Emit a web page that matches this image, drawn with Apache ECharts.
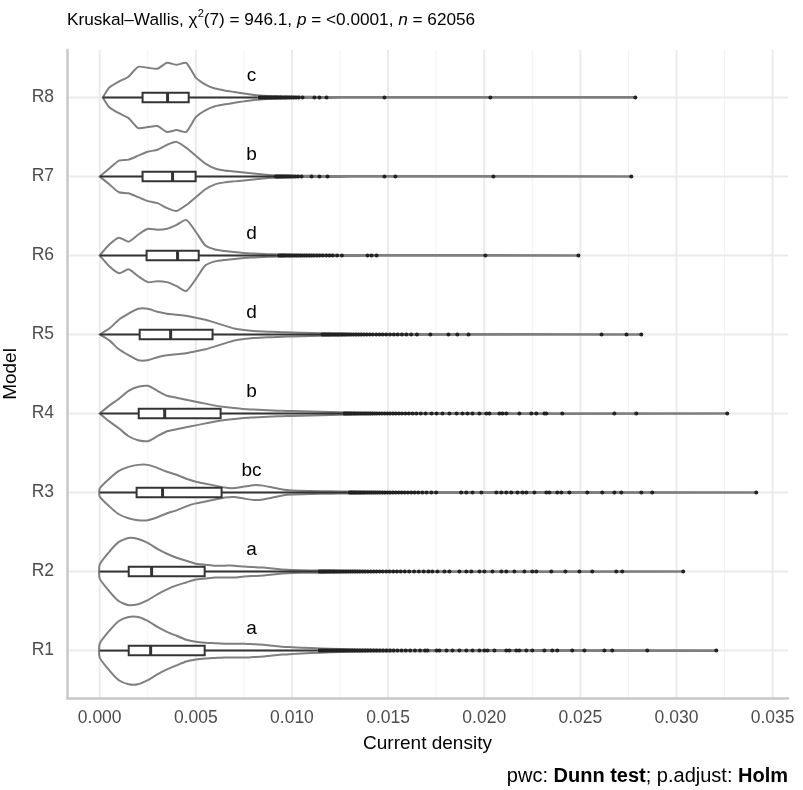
<!DOCTYPE html>
<html>
<head>
<meta charset="utf-8">
<script src="https://cdn.jsdelivr.net/npm/echarts@6/dist/echarts.min.js"></script>
<style>
  html, body { margin: 0; padding: 0; background: #fff; }
  #chart { width: 803px; height: 790px; }
</style>
</head>
<body>
<div id="chart"></div>
<script>
// groups, bottom (R1) to top (R8)
const models = ["R1", "R2", "R3", "R4", "R5", "R6", "R7", "R8"];
const letters = ["a", "a", "bc", "b", "d", "d", "b", "c"];
const letterX = 0.0079;

const xTicks = [0, 0.005, 0.01, 0.015, 0.02, 0.025, 0.03, 0.035];
const xMinor = [0.0025, 0.0075, 0.0125, 0.0175, 0.0225, 0.0275, 0.0325];

// boxplot stats
const boxMin = [0, 0, 0, 0, 0, 0, 0, 0.00016];
const boxQ1 = [0.00151, 0.00151, 0.00192, 0.00203, 0.00208, 0.00244, 0.00223, 0.00223];
const boxMed = [0.00265, 0.0027, 0.00327, 0.00338, 0.00369, 0.00405, 0.00379, 0.00353];
const boxQ3 = [0.00546, 0.00546, 0.00634, 0.00629, 0.00587, 0.00515, 0.00499, 0.00463];
const whiskerHi = [0.0113, 0.0113, 0.0129, 0.0126, 0.0115, 0.0092, 0.0091, 0.0082];
const dataMax = [0.03207, 0.03035, 0.03415, 0.03264, 0.02817, 0.0249, 0.02765, 0.02786];

// violin density (relative, widest = 36), sampled at densX
const densX = [0, 0.0005, 0.001, 0.0015, 0.002, 0.0025, 0.003, 0.0035, 0.004, 0.0045,
  0.005, 0.0055, 0.006, 0.0065, 0.007, 0.0075, 0.008, 0.0085, 0.009, 0.0095,
  0.01, 0.011, 0.012, 0.013, 0.014, 0.015, 0.016];
const densR1 = [7, 20, 30, 34, 34, 30, 24, 19, 15, 11, 9, 8, 7.5, 7, 7, 7, 6.5, 6, 5, 4, 3.5, 2.5, 1.8, 1.3, 1, 0.8, 0.6];
const densR2 = [7, 20, 30, 34, 33, 29, 23, 18, 14, 11, 8, 7, 6, 6, 6, 5, 4.5, 4, 3, 2, 1.5, 1.2, 1, 0.8, 0.6, 0.5, 0.4];
const densR3 = [4, 14, 22, 26, 28, 28, 25, 21, 18, 14, 11, 9, 7, 5, 4.5, 6, 7.5, 7, 5, 3, 2, 1.5, 1.2, 1, 0.8, 0.6, 0.5];
const densR4 = [0, 8, 15, 23, 27, 28, 23, 18, 16, 14, 12, 10, 8, 6.5, 5.5, 4.5, 4, 3.5, 3, 2.7, 2.5, 2, 1.5, 1, 0.7, 0.5, 0.4];
const densR5 = [0, 6, 15, 21, 26, 26, 23, 21, 20, 19, 17, 15, 12, 9, 6, 4.5, 3.5, 3, 2.7, 2.3, 2, 1.5, 1.1, 0.8, 0.6, 0.5, 0.4];
const densR6 = [0, 11, 18, 14, 21, 27, 26, 27, 31, 36, 24, 10, 6, 4.5, 3.5, 2.5, 2, 1.5, 1.2, 1, 0.8, 0.7, 0.6, 0.5, 0.4, 0.4, 0.4];
const densR7 = [0, 8, 16, 17, 21, 25, 27, 32, 35, 29, 21, 13, 8, 6, 5, 4, 3, 2, 1.3, 1, 0.8, 0.6, 0.5, 0.4, 0.4, 0.4, 0.4];
const densR8 = [0, 10, 16, 21, 31, 30, 29, 35, 33, 35, 20, 13, 9, 7, 5.5, 4, 2.5, 1.8, 1.3, 1, 0.8, 0.6, 0.5, 0.4, 0.4, 0.4, 0.4];
const densMax = 36;

// outliers
const outR1 = [0.01142, 0.01149, 0.01157, 0.01164, 0.01172, 0.0118, 0.01187, 0.01196, 0.01204, 0.01213,
  0.01221, 0.0123, 0.0124, 0.01249, 0.01259, 0.0127, 0.0128, 0.01291, 0.01303, 0.01315, 0.01327, 0.0134,
  0.01353, 0.01366, 0.0138, 0.01394, 0.01409, 0.01425, 0.0144, 0.01457, 0.01474, 0.01492, 0.0151, 0.01529,
  0.01549, 0.0157, 0.01592, 0.01615, 0.0164, 0.01666, 0.01692, 0.01705, 0.01752, 0.01767, 0.01804, 0.01835,
  0.01871, 0.01907, 0.01939, 0.01975, 0.02001, 0.02017, 0.02053, 0.02115, 0.02131, 0.02167, 0.02183,
  0.02219, 0.0225, 0.02313, 0.02354, 0.0238, 0.02458, 0.02521, 0.02625, 0.02666, 0.02848, 0.03207];
const outR2 = [0.01142, 0.0115, 0.01158, 0.01165, 0.01173, 0.01181, 0.01189, 0.01197, 0.01205, 0.01214,
  0.01222, 0.01231, 0.0124, 0.0125, 0.0126, 0.0127, 0.01281, 0.01292, 0.01304, 0.01316, 0.01328, 0.0134,
  0.01353, 0.01367, 0.0138, 0.01395, 0.0141, 0.01425, 0.0144, 0.01456, 0.01472, 0.0149, 0.01508, 0.01527,
  0.01546, 0.01566, 0.01587, 0.0161, 0.01635, 0.0166, 0.01685, 0.0171, 0.0173, 0.01757, 0.01793, 0.01819,
  0.01871, 0.01907, 0.01933, 0.01975, 0.02001, 0.02043, 0.02089, 0.02115, 0.02157, 0.02209, 0.0225,
  0.02271, 0.02349, 0.02422, 0.02495, 0.02562, 0.02687, 0.02718, 0.03035];
const outR3 = [0.013, 0.01308, 0.01315, 0.01323, 0.0133, 0.01338, 0.01347, 0.01355, 0.01364, 0.01373,
  0.01382, 0.01392, 0.01402, 0.01412, 0.01423, 0.01434, 0.01445, 0.01457, 0.0147, 0.01483, 0.01496, 0.0151,
  0.01525, 0.0154, 0.01555, 0.0157, 0.01586, 0.01603, 0.0162, 0.01638, 0.01657, 0.01678, 0.017, 0.01725,
  0.0175, 0.0188, 0.01907, 0.01939, 0.01985, 0.02063, 0.02089, 0.02115, 0.02141, 0.02173, 0.02199, 0.02219,
  0.02261, 0.02323, 0.02339, 0.0238, 0.02401, 0.02443, 0.02536, 0.02614, 0.02677, 0.02713, 0.02817,
  0.02874, 0.03415];
const outR4 = [0.01272, 0.0128, 0.01288, 0.01295, 0.01303, 0.0131, 0.0132, 0.01328, 0.01337, 0.01346,
  0.01355, 0.01365, 0.01375, 0.01385, 0.01396, 0.01407, 0.01418, 0.0143, 0.01442, 0.01455, 0.01468,
  0.01482, 0.01496, 0.0151, 0.01525, 0.0154, 0.01556, 0.01572, 0.0159, 0.01608, 0.01627, 0.01647, 0.0167,
  0.01695, 0.01726, 0.01752, 0.01783, 0.01819, 0.01856, 0.01887, 0.01913, 0.01939, 0.01975, 0.02011,
  0.02027, 0.02079, 0.02095, 0.02115, 0.02183, 0.02245, 0.02271, 0.02313, 0.02323, 0.02406, 0.02677,
  0.02791, 0.03264];
const outR5 = [0.01158, 0.01166, 0.01173, 0.0118, 0.01188, 0.01195, 0.01203, 0.0121, 0.0122, 0.01228,
  0.01237, 0.01245, 0.01255, 0.01264, 0.01275, 0.01285, 0.01296, 0.01308, 0.0132, 0.01333, 0.01346,
  0.0136, 0.01375, 0.0139, 0.01405, 0.0142, 0.01438, 0.01455, 0.01472, 0.0149, 0.0151, 0.0153, 0.0155,
  0.01572, 0.01595, 0.0162, 0.0165, 0.0172, 0.01814, 0.0186, 0.01918, 0.0261, 0.0274, 0.02817];
const outR6 = [0.00932, 0.0094, 0.00947, 0.00955, 0.00962, 0.0097, 0.0098, 0.00988, 0.00996, 0.01005,
  0.01015, 0.01024, 0.01033, 0.01044, 0.01055, 0.01066, 0.01078, 0.0109, 0.01102, 0.01115, 0.0113,
  0.01144, 0.0116, 0.01178, 0.01195, 0.01212, 0.01235, 0.0126, 0.01393, 0.01414, 0.0144, 0.02006, 0.0249];
const outR7 = [0.00916, 0.00924, 0.0093, 0.00938, 0.00945, 0.00953, 0.0096, 0.00968, 0.00977, 0.00985,
  0.00994, 0.01005, 0.01018, 0.01032, 0.0105, 0.01102, 0.01143, 0.01185, 0.01481, 0.01538, 0.02048, 0.02765];
const outR8 = [0.00831, 0.00838, 0.00844, 0.00852, 0.0086, 0.00866, 0.00875, 0.00883, 0.0089, 0.00898,
  0.00907, 0.00915, 0.00922, 0.00931, 0.0094, 0.00947, 0.00958, 0.00966, 0.00975, 0.00986, 0.00997,
  0.01008, 0.01021, 0.01035, 0.01055, 0.01117, 0.01143, 0.0118, 0.01481, 0.02032, 0.02786];

const violinDens = [densR1, densR2, densR3, densR4, densR5, densR6, densR7, densR8];
const outliers = [outR1, outR2, outR3, outR4, outR5, outR6, outR7, outR8];

const FONT = "Liberation Sans, Arial, Helvetica, sans-serif";
const chart = echarts.init(document.getElementById("chart"));

function renderVGrid(params, api) {
  const cs = params.coordSys;
  const x = api.coord([api.value(0), 1])[0];
  const major = api.value(1) === 1;
  return {
    type: "line",
    shape: { x1: x, y1: cs.y, x2: x, y2: cs.y + cs.height },
    style: { stroke: major ? "#ebebeb" : "#f3f3f3", lineWidth: major ? 2 : 1 },
  };
}

function renderHGrid(params, api) {
  const cs = params.coordSys;
  const y = api.coord([0, api.value(0) + 1])[1];
  return {
    type: "line",
    shape: { x1: cs.x, y1: y, x2: cs.x + cs.width, y2: y },
    style: { stroke: "#ebebeb", lineWidth: 2 },
  };
}

function renderViolin(params, api) {
  const i = api.value(0);
  const yv = i + 1;
  const d = violinDens[i];
  const lo = boxMin[i];
  const hi = dataMax[i];
  const half = (api.size([0, 1])[1] * 0.45) / densMax;
  let pts = densX.map((x, k) => [x, d[k]]).filter((p) => p[0] >= lo && p[0] < hi);
  if (pts[0][0] > lo) pts.unshift([lo, 0]);
  pts.push([hi, 0.3]);
  const top = pts.map((p) => {
    const c = api.coord([p[0], yv]);
    return [c[0], c[1] - p[1] * half];
  });
  const bot = pts
    .slice()
    .reverse()
    .map((p) => {
      const c = api.coord([p[0], yv]);
      return [c[0], c[1] + p[1] * half];
    });
  return {
    type: "polygon",
    shape: { points: top.concat(bot), smooth: 0.2 },
    style: { fill: "none", stroke: "#7f7f7f", lineWidth: 2 },
  };
}

function renderBox(params, api) {
  const yv = api.value(0) + 1;
  const band = api.size([0, 1])[1];
  const h = band * 0.12;
  const c = (v) => api.coord([v, yv]);
  const pMin = c(api.value(1));
  const pQ1 = c(api.value(2));
  const pMed = c(api.value(3));
  const pQ3 = c(api.value(4));
  const pHi = c(api.value(5));
  const ink = "#333333";
  return {
    type: "group",
    children: [
      {
        type: "line",
        shape: { x1: pMin[0], y1: pMin[1], x2: pQ1[0], y2: pQ1[1] },
        style: { stroke: ink, lineWidth: 2 },
      },
      {
        type: "line",
        shape: { x1: pQ3[0], y1: pQ3[1], x2: pHi[0], y2: pHi[1] },
        style: { stroke: ink, lineWidth: 2 },
      },
      {
        type: "rect",
        shape: { x: pQ1[0], y: pQ1[1] - h / 2, width: pQ3[0] - pQ1[0], height: h },
        style: { fill: "#ffffff", stroke: ink, lineWidth: 2 },
      },
      {
        type: "line",
        shape: { x1: pMed[0], y1: pMed[1] - h / 2, x2: pMed[0], y2: pMed[1] + h / 2 },
        style: { stroke: ink, lineWidth: 3 },
      },
    ],
  };
}

function renderLetter(params, api) {
  const i = api.value(0);
  const p = api.coord([api.value(1), i + 1]);
  const band = api.size([0, 1])[1];
  return {
    type: "text",
    x: p[0],
    y: p[1] - band * 0.27,
    style: {
      text: letters[i],
      fill: "#000",
      font: "19px " + FONT,
      align: "center",
      verticalAlign: "middle",
    },
  };
}

const outlierPoints = [];
outliers.forEach((arr, i) => arr.forEach((v) => outlierPoints.push([v, i + 1])));

const option = {
  animation: false,
  backgroundColor: "#ffffff",
  title: [
    {
      left: 67,
      top: 8,
      padding: 0,
      text: "{r|Kruskal–Wallis, χ}{s|2}{r|(7) = 946.1, }{i|p}{r| = <0.0001, }{i|n}{r| = 62056}",
      textStyle: {
        fontWeight: "normal",
        rich: {
          r: { fontSize: 17.2, fontFamily: FONT, color: "#000", fontWeight: "normal", lineHeight: 24 },
          i: { fontSize: 17.2, fontFamily: FONT, color: "#000", fontWeight: "normal", fontStyle: "italic", lineHeight: 24 },
          s: { fontSize: 11, fontFamily: FONT, color: "#000", fontWeight: "normal", verticalAlign: "top", lineHeight: 13 },
        },
      },
    },
    {
      right: 15,
      top: 766,
      padding: 0,
      text: "{r|pwc: }{b|Dunn test}{r|; p.adjust: }{b|Holm}",
      textStyle: {
        fontWeight: "normal",
        rich: {
          r: { fontSize: 20, fontFamily: FONT, color: "#000", fontWeight: "normal" },
          b: { fontSize: 20, fontFamily: FONT, color: "#000", fontWeight: "bold" },
        },
      },
    },
  ],
  grid: { left: 67, right: 15, top: 50, bottom: 92, containLabel: false, outerBoundsMode: "none" },
  xAxis: {
    type: "value",
    min: -0.0017,
    max: 0.0358,
    z: 5,
    name: "Current density",
    nameLocation: "middle",
    nameGap: 36,
    nameTextStyle: { fontSize: 19, fontFamily: FONT, color: "#000" },
    axisLine: { show: true, onZero: false, lineStyle: { color: "#c8c8c8", width: 2.5 } },
    axisTick: { show: false },
    splitLine: { show: false },
    axisLabel: {
      customValues: xTicks,
      formatter: (v) => v.toFixed(3),
      fontSize: 17.5,
      fontFamily: FONT,
      color: "#4d4d4d",
      margin: 11,
    },
  },
  yAxis: {
    type: "value",
    min: 0.4,
    max: 8.6,
    z: 5,
    name: "Model",
    nameLocation: "middle",
    nameGap: 41,
    nameRotate: 90,
    nameTextStyle: { fontSize: 19, fontFamily: FONT, color: "#000" },
    axisLine: { show: true, onZero: false, lineStyle: { color: "#c8c8c8", width: 2.5 } },
    axisTick: { show: false },
    splitLine: { show: false },
    axisLabel: {
      customValues: [1, 2, 3, 4, 5, 6, 7, 8],
      formatter: (v) => models[Math.round(v) - 1],
      fontSize: 17.5,
      fontFamily: FONT,
      color: "#4d4d4d",
      margin: 13,
    },
  },
  series: [
    {
      type: "custom",
      z: 1,
      silent: true,
      renderItem: renderVGrid,
      data: xTicks.map((v) => [v, 1]).concat(xMinor.map((v) => [v, 0])),
    },
    {
      type: "custom",
      z: 1,
      silent: true,
      renderItem: renderHGrid,
      data: models.map((m, i) => [i]),
    },
    {
      type: "custom",
      z: 2,
      renderItem: renderViolin,
      data: models.map((m, i) => [i]),
    },
    {
      type: "custom",
      z: 3,
      renderItem: renderBox,
      data: models.map((m, i) => [i, boxMin[i], boxQ1[i], boxMed[i], boxQ3[i], whiskerHi[i]]),
    },
    {
      type: "scatter",
      z: 4,
      symbolSize: 4,
      itemStyle: { color: "#222222", opacity: 1 },
      data: outlierPoints,
    },
    {
      type: "custom",
      z: 4,
      renderItem: renderLetter,
      data: models.map((m, i) => [i, letterX]),
    },
  ],
};

chart.setOption(option);
</script>
</body>
</html>
